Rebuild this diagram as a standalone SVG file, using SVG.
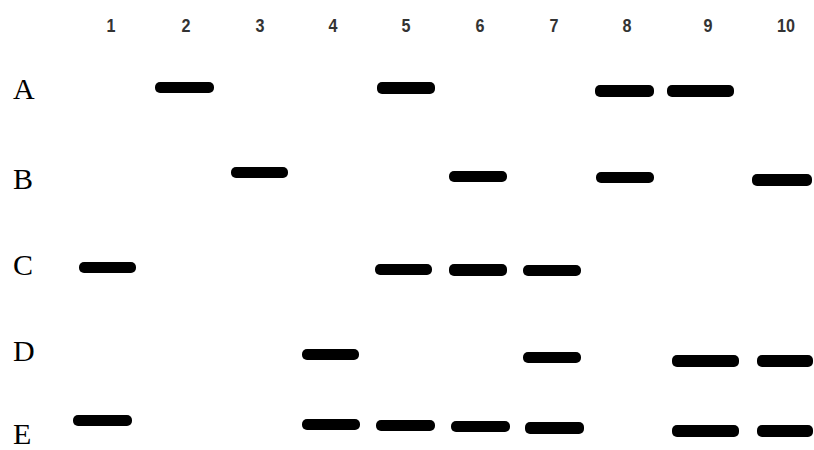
<svg xmlns="http://www.w3.org/2000/svg" width="814" height="450" viewBox="0 0 814 450">
<defs>
<filter id="soft" x="-10%" y="-50%" width="120%" height="200%"><feGaussianBlur stdDeviation="0.6"/></filter>
</defs>
<style>
.num{font-family:"Liberation Sans",Arial,sans-serif;font-size:19px;font-weight:bold;fill:#333;text-anchor:middle}
.row{font-family:"Liberation Serif","Times New Roman",serif;font-size:30px;fill:#000}
.band{fill:#050505;filter:url(#soft)}
</style>
<rect width="814" height="450" fill="#fff"/>
<g id="lanes">
<text class="num" x="111" y="32" transform="translate(111 0) scale(0.85 1) translate(-111 0)">1</text>
<text class="num" x="186" y="32" transform="translate(186 0) scale(0.85 1) translate(-186 0)">2</text>
<text class="num" x="260" y="32" transform="translate(260 0) scale(0.85 1) translate(-260 0)">3</text>
<text class="num" x="333" y="32" transform="translate(333 0) scale(0.85 1) translate(-333 0)">4</text>
<text class="num" x="406" y="32" transform="translate(406 0) scale(0.85 1) translate(-406 0)">5</text>
<text class="num" x="480" y="32" transform="translate(480 0) scale(0.85 1) translate(-480 0)">6</text>
<text class="num" x="554" y="32" transform="translate(554 0) scale(0.85 1) translate(-554 0)">7</text>
<text class="num" x="627" y="32" transform="translate(627 0) scale(0.85 1) translate(-627 0)">8</text>
<text class="num" x="708" y="32" transform="translate(708 0) scale(0.85 1) translate(-708 0)">9</text>
<text class="num" x="786" y="32" transform="translate(786 0) scale(0.85 1) translate(-786 0)">10</text>
</g>
<g id="rowA">
<text class="row" x="13" y="99">A</text>
<rect class="band" x="155" y="82" width="59" height="11" rx="5"/>
<rect class="band" x="377" y="82" width="58" height="12" rx="5"/>
<rect class="band" x="595" y="85" width="59" height="12" rx="5"/>
<rect class="band" x="667" y="85" width="67" height="12" rx="5"/>
</g>
<g id="rowB">
<text class="row" x="13" y="189">B</text>
<rect class="band" x="231" y="167" width="57" height="11" rx="5"/>
<rect class="band" x="449" y="171" width="58" height="11" rx="5"/>
<rect class="band" x="596" y="172" width="58" height="11" rx="5"/>
<rect class="band" x="752" y="174" width="60" height="12" rx="5"/>
</g>
<g id="rowC">
<text class="row" x="13" y="275">C</text>
<rect class="band" x="79" y="262" width="57" height="11" rx="5"/>
<rect class="band" x="375" y="264" width="57" height="11" rx="5"/>
<rect class="band" x="449" y="264" width="58" height="12" rx="5"/>
<rect class="band" x="523" y="265" width="58" height="11" rx="5"/>
</g>
<g id="rowD">
<text class="row" x="13" y="361">D</text>
<rect class="band" x="302" y="349" width="57" height="11" rx="5"/>
<rect class="band" x="523" y="352" width="58" height="11" rx="5"/>
<rect class="band" x="672" y="355" width="67" height="12" rx="5"/>
<rect class="band" x="757" y="355" width="56" height="12" rx="5"/>
</g>
<g id="rowE">
<text class="row" x="13" y="444">E</text>
<rect class="band" x="73" y="415" width="59" height="11" rx="5"/>
<rect class="band" x="302" y="419" width="58" height="11" rx="5"/>
<rect class="band" x="376" y="420" width="59" height="11" rx="5"/>
<rect class="band" x="451" y="421" width="59" height="11" rx="5"/>
<rect class="band" x="525" y="422" width="59" height="12" rx="5"/>
<rect class="band" x="672" y="425" width="67" height="12" rx="5"/>
<rect class="band" x="757" y="425" width="56" height="12" rx="5"/>
</g>
<g id="connectors"/>
</svg>
